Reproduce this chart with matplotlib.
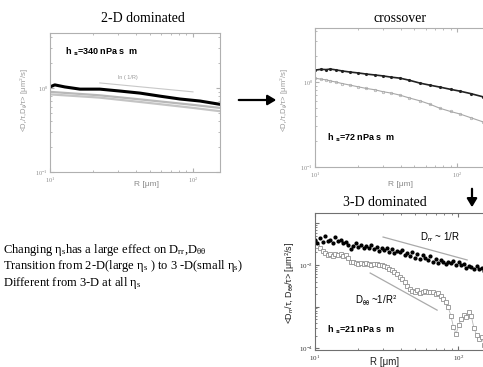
import matplotlib
matplotlib.use("Agg")
import matplotlib.pyplot as plt
import numpy as np

plt.rcParams['mathtext.fontset'] = 'custom'
plt.rcParams['mathtext.rm'] = 'Liberation Serif'
plt.rcParams['mathtext.it'] = 'Liberation Serif:italic'
plt.rcParams['mathtext.bf'] = 'Liberation Serif:bold'

W, H = 483, 367

# ---- panel 1: 2-D dominated (eta_s = 340)
r2d = [10.0, 10.8, 12.7, 16.2, 22.3, 30.9, 42.6, 58.8, 81.0, 112.0, 154.0]
d2d_black = [1.03, 1.09, 1.03, 0.97, 0.97, 0.92, 0.87, 0.80, 0.74, 0.70, 0.64]
r2d_gray = [10.0, 22.0, 47.0, 100.0, 154.0]
d2d_gray1 = [0.90, 0.82, 0.72, 0.63, 0.58]
d2d_gray2 = [0.84, 0.77, 0.67, 0.58, 0.53]
ref2d_r = [22.3, 100.0]
ref2d_d = [1.15, 0.90]

# ---- panel 2: crossover (eta_s = 72)
rx = [10.0, 11.0, 12.0, 12.8, 14.0, 15.5, 17.6, 20.0, 23.0, 26.4, 30.0, 34.5,
      39.7, 46.0, 54.9, 64.0, 76.0, 90.0, 105.0, 125.0, 152.0]
dx_black = [1.38, 1.41, 1.40, 1.42, 1.39, 1.35, 1.31, 1.28, 1.24, 1.21, 1.18, 1.14,
            1.11, 1.05, 0.97, 0.92, 0.87, 0.82, 0.78, 0.73, 0.67]
dx_gray = [1.11, 1.08, 1.06, 1.03, 1.00, 0.96, 0.92, 0.88, 0.84, 0.81, 0.77, 0.74,
           0.70, 0.65, 0.60, 0.55, 0.49, 0.45, 0.42, 0.38, 0.34]

# ---- panel 3: 3-D dominated (eta_s = 21)
r3d = [10.0, 10.4, 10.9, 11.3, 11.8, 12.3, 12.8, 13.3, 13.9, 14.5, 15.1, 15.7,
       16.4, 17.1, 17.8, 18.5, 19.3, 20.1, 21.0, 21.9, 22.8, 23.7, 24.7, 25.8,
       26.9, 28.0, 29.2, 30.4, 31.7, 33.0, 34.4, 35.9, 37.4, 39.0, 40.6, 42.3,
       44.1, 46.0, 47.9, 49.9, 52.0, 54.2, 56.5, 58.9, 61.4, 64.0, 66.7, 69.5,
       72.4, 75.5, 78.7, 82.0, 85.4, 89.0, 92.8, 96.7, 100.8, 105.0, 109.4, 114.0,
       118.8, 123.8, 129.0, 134.5, 140.2, 146.1, 152.3]
d_rr = [0.040, 0.034, 0.044, 0.036, 0.050, 0.038, 0.041, 0.033, 0.046, 0.037, 0.039, 0.034,
        0.036, 0.031, 0.024, 0.029, 0.033, 0.027, 0.030, 0.025, 0.029, 0.026, 0.031, 0.024,
        0.027, 0.022, 0.026, 0.023, 0.025, 0.021, 0.024, 0.019, 0.022, 0.020, 0.023, 0.017,
        0.019, 0.016, 0.020, 0.015, 0.018, 0.014, 0.017, 0.015, 0.013, 0.016, 0.012, 0.014,
        0.011, 0.013, 0.012, 0.0105, 0.012, 0.011, 0.0125, 0.0100, 0.0115, 0.0098, 0.0108, 0.0085,
        0.0097, 0.0090, 0.0082, 0.0093, 0.0078, 0.0085, 0.0070]
d_tt = [0.034, 0.028, 0.025, 0.022, 0.019, 0.017, 0.018, 0.016, 0.018, 0.017, 0.018, 0.016,
        0.017, 0.015, 0.012, 0.0118, 0.0112, 0.0108, 0.0110, 0.0104, 0.0112, 0.0106, 0.0100, 0.0108,
        0.0104, 0.0098, 0.0102, 0.0096, 0.0088, 0.0082, 0.0075, 0.0068, 0.0060, 0.0052, 0.0046, 0.0038,
        0.0031, 0.0026, 0.0024, 0.0023, 0.0025, 0.0021, 0.0023, 0.0024, 0.0022, 0.0023, 0.0022, 0.0020,
        0.0021, 0.0018, 0.0015, 0.0013, 0.00095, 0.00060, 0.00032, 0.00022, 0.00035, 0.00050, 0.00062, 0.00055,
        0.00072, 0.00058, 0.00030, 0.00021, 0.00017, 0.00018, 0.00012]
ref_rr_r = [29.9, 115.6]
ref_rr_d = [0.047, 0.0132]
ref_tt_r = [24.3, 71.3]
ref_tt_d = [0.0064, 0.00082]

notes = [
    r"Changing η$_\mathrm{s}$has a large effect on D$_\mathrm{rr}$,D$_\mathrm{θθ}$",
    r"Transition from 2-D(large η$_\mathrm{s}$ ) to 3 -D(small η$_\mathrm{s}$)",
    r"Different from 3-D at all η$_\mathrm{s}$",
]


def pos(x0, y0, x1, y1):
    return [x0 / W, 1 - y1 / H, (x1 - x0) / W, (y1 - y0) / H]


def style(ax, fc, tc, size):
    ax.set_xscale('log')
    ax.set_yscale('log')
    for s in ax.spines.values():
        s.set_color(fc)
        s.set_linewidth(0.8)
    ax.tick_params(which='both', direction='in', top=True, right=True,
                   colors=fc, labelcolor=tc, labelsize=size, pad=1.5)
    ax.tick_params(axis='x', which='both', pad=2.5)
    ax.tick_params(which='major', length=3)
    ax.tick_params(which='minor', length=1.5)


fig = plt.figure(figsize=(W / 100, H / 100), dpi=100)
serif = 'Liberation Serif'
sans = 'Liberation Sans'

# panel 1
ax1 = fig.add_axes(pos(50, 33, 220, 172))
style(ax1, '#b0b0b0', '#8a8a8a', 4.5)
ax1.plot(r2d_gray, d2d_gray1, color='#b8b8b8', lw=1.6)
ax1.plot(r2d_gray, d2d_gray2, color='#c4c4c4', lw=1.6)
ax1.plot(r2d, d2d_black, color='black', lw=2.2)
ax1.plot(ref2d_r, ref2d_d, color='#c8c8c8', lw=0.8)
ax1.text(30, 1.27, 'ln ( 1/R)', fontsize=4, color='#999999', family=sans)
ax1.set_xlim(10, 154.5)
ax1.set_ylim(0.1, 4.52)
ax1.set_xticks([10, 100], ['$10^{1}$', '$10^{2}$'])
ax1.set_yticks([0.1, 1], ['$10^{-1}$', '$10^{0}$'])

# panel 2
ax2 = fig.add_axes(pos(315, 28, 495, 167))
style(ax2, '#b0b0b0', '#8a8a8a', 4.5)
ax2.plot(rx, dx_gray, color='#a8a8a8', lw=0.8, marker='o', ms=1.8, mfc='none', mew=0.5)
ax2.plot(rx, dx_black, color='#222222', lw=1.2, marker='.', ms=2.5)
ax2.set_xlim(10, 185)
ax2.set_ylim(0.1, 4.32)
ax2.set_xticks([10, 100], ['$10^{1}$', '$10^{2}$'])
ax2.set_yticks([0.1, 1], ['$10^{-1}$', '$10^{0}$'])

# panel 3
ax3 = fig.add_axes(pos(315, 213, 495, 350))
style(ax3, '#707070', '#333333', 5)
ax3.plot(r3d, d_tt, color='#b8b8b8', lw=0.6, marker='s', ms=2.2, mfc='white',
         mec='#909090', mew=0.6)
ax3.plot(r3d, d_rr, ls='none', marker='o', ms=2, color='black')
ax3.plot(ref_rr_r, ref_rr_d, color='#aaaaaa', lw=0.9)
ax3.plot(ref_tt_r, ref_tt_d, color='#aaaaaa', lw=0.9)
ax3.set_xlim(10, 181)
ax3.set_ylim(9.0e-5, 0.178)
ax3.set_xticks([10, 100], ['$10^{1}$', '$10^{2}$'])
ax3.set_yticks([1e-4, 1e-3, 1e-2, 1e-1], ['$10^{-4}$', '', '$10^{-2}$', ''])
ax3.text(54, 0.038, r'D$_{\mathrm{rr}}$ ~ 1/R', fontsize=7, family=sans,
         math_fontfamily='stixsans')
ax3.text(19, 0.0011, r'D$_{\mathrm{θθ}}$ ~1/R$^{\,2}$', fontsize=7, family=sans,
         math_fontfamily='stixsans')

# in-panel viscosity labels
fig.text(65 / W, 1 - 52 / H, r'h $_\mathbf{s}$=340 nPa s  m', fontsize=6.5,
         weight='bold', family=sans, va='center', math_fontfamily='dejavusans')
fig.text(327 / W, 1 - 138 / H, r'h $_\mathbf{s}$=72 nPa s  m', fontsize=6.5,
         weight='bold', family=sans, va='center', math_fontfamily='dejavusans')
fig.text(327 / W, 1 - 330 / H, r'h $_\mathbf{s}$=21 nPa s  m', fontsize=6.5,
         weight='bold', family=sans, va='center', math_fontfamily='dejavusans')

# titles
fig.text(143 / W, 1 - 18 / H, '2-D dominated', fontsize=10, family=serif, ha='center', va='center')
fig.text(400 / W, 1 - 18 / H, 'crossover', fontsize=10, family=serif, ha='center', va='center')
fig.text(385 / W, 1 - 203 / H, '3-D dominated', fontsize=10, family=serif, ha='center', va='center')

# axis labels
fig.text(147 / W, 1 - 185 / H, 'R [μm]', fontsize=6, color='#8a8a8a', family=sans, ha='center', va='center')
fig.text(400 / W, 1 - 184 / H, 'R [μm]', fontsize=6, color='#8a8a8a', family=sans, ha='center', va='center')
fig.text(385 / W, 1 - 362 / H, 'R [μm]', fontsize=7, color='#222222', family=sans, ha='center', va='center')
fig.text(24 / W, 1 - 100 / H, r'<D$_\mathrm{r}$/τ,D$_\mathrm{θ}$/τ> [μm$^2$/s]', fontsize=5.5,
         color='#9a9a9a', family=sans, rotation=90, ha='center', va='center',
         math_fontfamily='stixsans')
fig.text(284 / W, 1 - 100 / H, r'<D$_\mathrm{r}$/τ,D$_\mathrm{θ}$/τ> [μm$^2$/s]', fontsize=5.5,
         color='#9a9a9a', family=sans, rotation=90, ha='center', va='center',
         math_fontfamily='stixsans')
fig.text(290 / W, 1 - 283 / H, r'<D$_\mathrm{rr}$/τ, D$_\mathrm{θθ}$/τ> [μm$^2$/s]', fontsize=6.5,
         color='#222222', family=sans, rotation=90, ha='center', va='center',
         math_fontfamily='stixsans')

# arrows
fig.add_artist(matplotlib.patches.FancyArrowPatch(
    (236 / W, 1 - 100 / H), (279 / W, 1 - 100 / H), transform=fig.transFigure,
    arrowstyle='-|>,head_length=5,head_width=3', color='black', lw=1.6))
fig.add_artist(matplotlib.patches.FancyArrowPatch(
    (472 / W, 1 - 186 / H), (472 / W, 1 - 210 / H), transform=fig.transFigure,
    arrowstyle='-|>,head_length=5,head_width=3', color='black', lw=1.6))

# notes
for i, line in enumerate(notes):
    fig.text(3 / W, 1 - (250 + 16.5 * i) / H, line, fontsize=9, family=serif, va='center')

fig.savefig('out.png', dpi=100)
